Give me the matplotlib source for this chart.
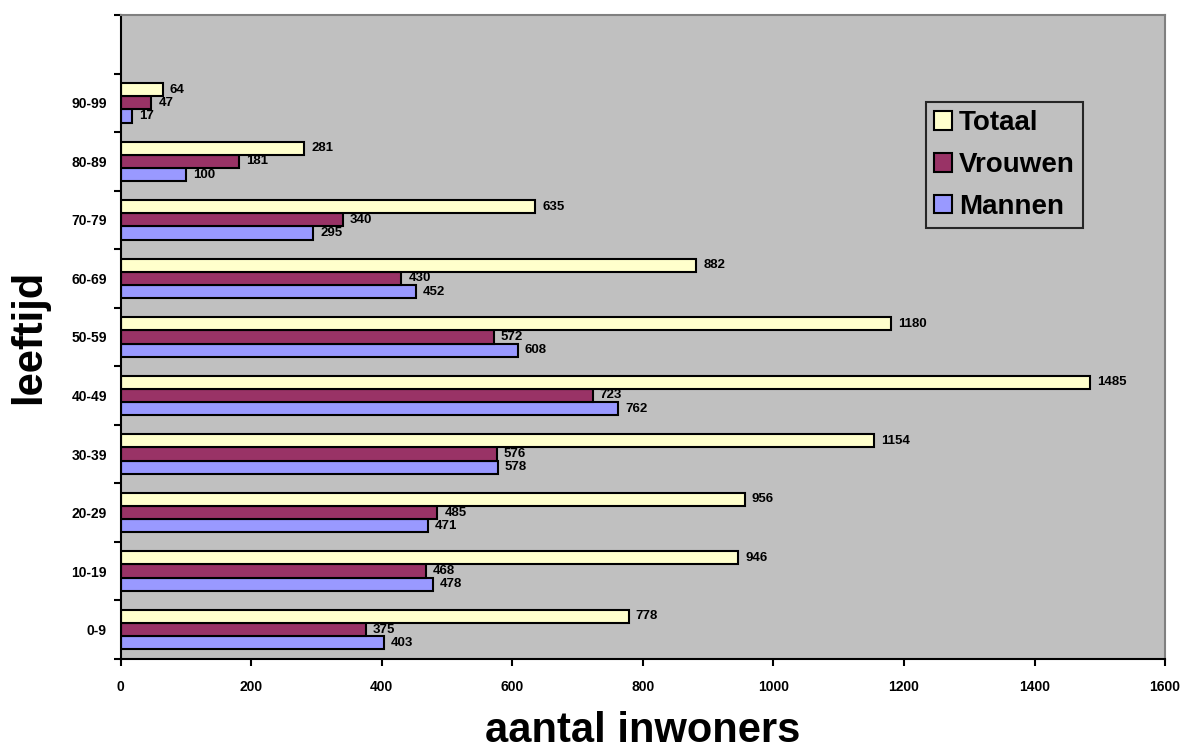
import matplotlib.pyplot as plt
import numpy as np

plt.rcParams['font.family'] = ['Liberation Sans', 'DejaVu Sans']
plt.rcParams['font.weight'] = 'bold'

leeftijd = ["0-9", "10-19", "20-29", "30-39", "40-49", "50-59", "60-69", "70-79", "80-89", "90-99"]
mannen = [403, 478, 471, 578, 762, 608, 452, 295, 100, 17]
vrouwen = [375, 468, 485, 576, 723, 572, 430, 340, 181, 47]
totaal = [778, 946, 956, 1154, 1485, 1180, 882, 635, 281, 64]

fig = plt.figure(figsize=(11.84, 7.53), dpi=100)
ax = fig.add_axes([0.102, 0.125, 0.882, 0.855])
ax.set_facecolor("#C0C0C0")

y = np.arange(len(leeftijd))
h = 0.225
series = [
    (mannen, -h, "#9999FF", "Mannen"),
    (vrouwen, 0, "#993366", "Vrouwen"),
    (totaal, h, "#FFFFCC", "Totaal"),
]
for vals, off, col, lab in series:
    bars = ax.barh(y + off, vals, height=h, color=col, edgecolor="black", linewidth=1.5, label=lab)
    for b, v in zip(bars, vals):
        ax.annotate(str(v), (v, b.get_y() + b.get_height() / 2), xytext=(5, 0),
                    textcoords="offset points", va="center", ha="left",
                    fontsize=9.5, fontweight="bold")

ax.set_xlim(0, 1600)
ax.set_ylim(-0.5, 10.5)
ax.set_xticks(range(0, 1601, 200))
ax.set_yticks(y)
ax.set_yticklabels(leeftijd)
ax.set_yticks(np.arange(-0.5, 10.6, 1), minor=True)
ax.tick_params(axis="y", which="major", length=0, pad=10, labelsize=10)
ax.tick_params(axis="y", which="minor", length=5, width=1.5)
ax.tick_params(axis="x", length=5, width=1.5, labelsize=10, pad=10)

for s in ["left", "bottom"]:
    ax.spines[s].set_linewidth(1.5)
    ax.spines[s].set_color("black")
for s in ["top", "right"]:
    ax.spines[s].set_linewidth(1.5)
    ax.spines[s].set_color("#808080")

ax.set_xlabel("aantal inwoners", fontsize=30, fontweight="bold")
ax.xaxis.label.set_va("baseline")
ax.xaxis.set_label_coords(0.5, -0.129)
ax.set_ylabel("leeftijd", fontsize=30, fontweight="bold")
ax.yaxis.set_label_coords(-0.069, 0.5)

handles, labels = ax.get_legend_handles_labels()
leg = ax.legend(handles[::-1], labels[::-1], loc="upper left", bbox_to_anchor=(0.771, 0.865),
                prop={"weight": "bold", "size": 20}, frameon=True, fancybox=False,
                edgecolor="black", facecolor="#C0C0C0", handlelength=0.65, handleheight=0.65,
                handletextpad=0.25, labelspacing=0.57, borderpad=0.3, borderaxespad=0)
leg.get_frame().set_linewidth(1.5)

fig.savefig("out.png", dpi=100)
